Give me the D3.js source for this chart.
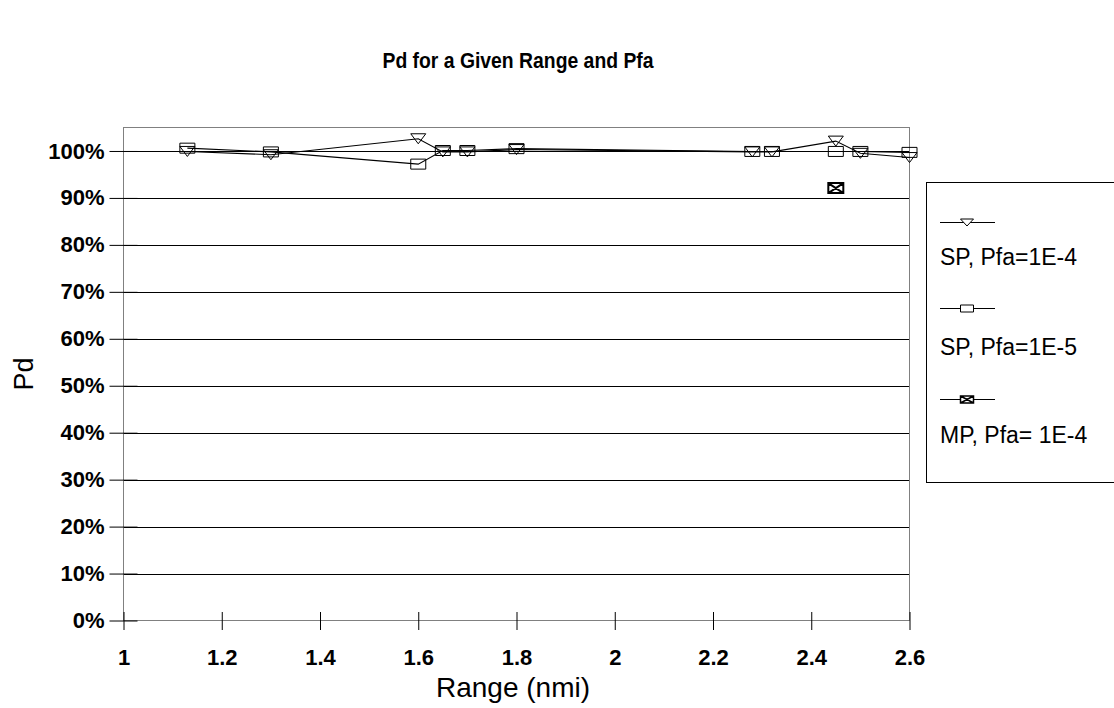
<!DOCTYPE html>
<html>
<head>
<meta charset="utf-8">
<script src="https://cdn.jsdelivr.net/npm/d3@7"></script>
<style>
  html, body { margin: 0; padding: 0; background: #fff; }
  svg { display: block; font-family: "Liberation Sans", Arial, sans-serif; }
</style>
</head>
<body>
<svg id="chart" width="1114" height="708"></svg>
<script>
// Range values (nmi) for each measurement
const ranges = [1.13, 1.3, 1.6, 1.65, 1.7, 1.8, 2.28, 2.32, 2.45, 2.5, 2.6];

// Probability of detection per series (null = no measurement)
const spPfa4 = [0.999, 0.992, 1.026, 0.998, 0.998, 1.003, 0.998, 0.998, 1.021, 0.995, 0.986];
const spPfa5 = [1.006, 0.998, 0.972, 1.001, 1.001, 1.005, 0.999, 0.999, 0.999, 0.999, 0.997];
const mpPfa4 = [null, null, null, null, null, null, null, null, 0.921, null, null];

const seriesNames = ["SP, Pfa=1E-4", "SP, Pfa=1E-5", "MP, Pfa= 1E-4"];
const markerTypes = ["triangle", "square", "crossbox"];

const xTicks = [1, 1.2, 1.4, 1.6, 1.8, 2, 2.2, 2.4, 2.6];
const yTicks = [0, 0.1, 0.2, 0.3, 0.4, 0.5, 0.6, 0.7, 0.8, 0.9, 1.0];

const titleText = "Pd for a Given Range and Pfa";
const xTitle = "Range (nmi)";
const yTitle = "Pd";

const svg = d3.select("#chart");

const plot = { left: 123.5, right: 909.5, top: 127.5, bottom: 620.5 };

const x = d3.scaleLinear().domain([1, 2.6]).range([plot.left, plot.right]);
const y = d3.scaleLinear().domain([0, 1.05]).range([plot.bottom, plot.top]);

// Title (slightly condensed bold face)
svg.append("g")
  .attr("transform", "translate(518,68) scale(0.88,1)")
  .append("text")
  .attr("text-anchor", "middle")
  .attr("font-size", 22).attr("font-weight", "bold")
  .text(titleText);

// Horizontal gridlines
svg.append("g")
  .selectAll("line")
  .data(yTicks.filter(d => d > 0))
  .join("line")
  .attr("x1", plot.left).attr("x2", plot.right)
  .attr("y1", d => Math.round(y(d)) + 0.5).attr("y2", d => Math.round(y(d)) + 0.5)
  .attr("stroke", "#000").attr("stroke-width", 1);

// Plot frame
svg.append("rect")
  .attr("x", plot.left).attr("y", plot.top)
  .attr("width", plot.right - plot.left).attr("height", plot.bottom - plot.top)
  .attr("fill", "none").attr("stroke", "#808080").attr("stroke-width", 1);

// Y axis (ticks cross the axis line)
const yAxis = d3.axisLeft(y)
  .tickValues(yTicks)
  .tickFormat(d3.format(".0%"))
  .tickSizeInner(0).tickSizeOuter(0).tickPadding(19);
const yg = svg.append("g").attr("transform", `translate(${plot.left},0)`).call(yAxis);
yg.select(".domain").remove();
yg.selectAll(".tick text")
  .attr("font-family", "Liberation Sans, Arial, sans-serif")
  .attr("font-size", 22).attr("font-weight", "bold").attr("fill", "#000");
yg.selectAll(".tick").append("line")
  .attr("x1", -14).attr("x2", 14).attr("stroke", "#000");

// X axis
const xAxis = d3.axisBottom(x)
  .tickValues(xTicks)
  .tickFormat(d3.format("~g"))
  .tickSizeInner(0).tickSizeOuter(0).tickPadding(29);
const xg = svg.append("g").attr("transform", `translate(0,${plot.bottom})`).call(xAxis);
xg.select(".domain").remove();
xg.selectAll(".tick text")
  .attr("font-family", "Liberation Sans, Arial, sans-serif")
  .attr("font-size", 22).attr("font-weight", "bold").attr("fill", "#000");
xg.selectAll(".tick").append("line")
  .attr("y1", -8.5).attr("y2", 9.5).attr("stroke", "#000");

// Axis titles
svg.append("text")
  .attr("x", 513).attr("y", 697)
  .attr("text-anchor", "middle").attr("font-size", 28)
  .text(xTitle);
svg.append("text")
  .attr("transform", "translate(33,374) rotate(-90)")
  .attr("text-anchor", "middle").attr("font-size", 27)
  .text(yTitle);

// Marker shapes
function markerPath(type, w, h) {
  const hw = w / 2, hh = h / 2;
  if (type === "triangle") return `M${-hw},${-hh}L${hw},${-hh}L0,${hh}Z`;
  if (type === "square") return `M${-hw},${-hh}H${hw}V${hh}H${-hw}Z`;
  return `M${-hw},${-hh}H${hw}V${hh}H${-hw}ZM${-hw},${-hh}L${hw},${hh}M${hw},${-hh}L${-hw},${hh}`;
}

const seriesValues = [spPfa4, spPfa5, mpPfa4];
const series = seriesValues.map((vals, i) => ({
  name: seriesNames[i],
  marker: markerTypes[i],
  points: ranges.map((r, j) => ({ r, v: vals[j] }))
}));

const line = d3.line()
  .defined(d => d.v !== null)
  .x(d => x(d.r)).y(d => y(d.v));

const sg = svg.append("g");
series.forEach(s => {
  sg.append("path")
    .attr("d", line(s.points))
    .attr("fill", "none").attr("stroke", "#000").attr("stroke-width", 1.1);
});
series.forEach(s => {
  sg.selectAll(null)
    .data(s.points.filter(d => d.v !== null))
    .join("path")
    .attr("transform", d => `translate(${x(d.r)},${y(d.v)})`)
    .attr("d", markerPath(s.marker, 15, 10))
    .attr("fill", s.marker === "crossbox" ? "#fff" : "none")
    .attr("stroke", "#000").attr("stroke-width", s.marker === "crossbox" ? 2 : 1);
});

// Legend
const legend = svg.append("g");
legend.append("rect")
  .attr("x", 926.5).attr("y", 182.5).attr("width", 200).attr("height", 300)
  .attr("fill", "#fff").attr("stroke", "#000");
const legendRows = [222, 308, 399];
const legendText = [265, 355, 443];
series.forEach((s, i) => {
  legend.append("line")
    .attr("x1", 940).attr("x2", 995)
    .attr("y1", legendRows[i] + 0.5).attr("y2", legendRows[i] + 0.5)
    .attr("stroke", "#000");
  legend.append("path")
    .attr("transform", `translate(967,${legendRows[i] + 0.5})`)
    .attr("d", markerPath(s.marker, 13, 7))
    .attr("fill", "#fff").attr("stroke", "#000")
    .attr("stroke-width", s.marker === "crossbox" ? 1.5 : 1);
  legend.append("text")
    .attr("x", 940).attr("y", legendText[i])
    .attr("font-size", 23)
    .text(s.name);
});
</script>
</body>
</html>
